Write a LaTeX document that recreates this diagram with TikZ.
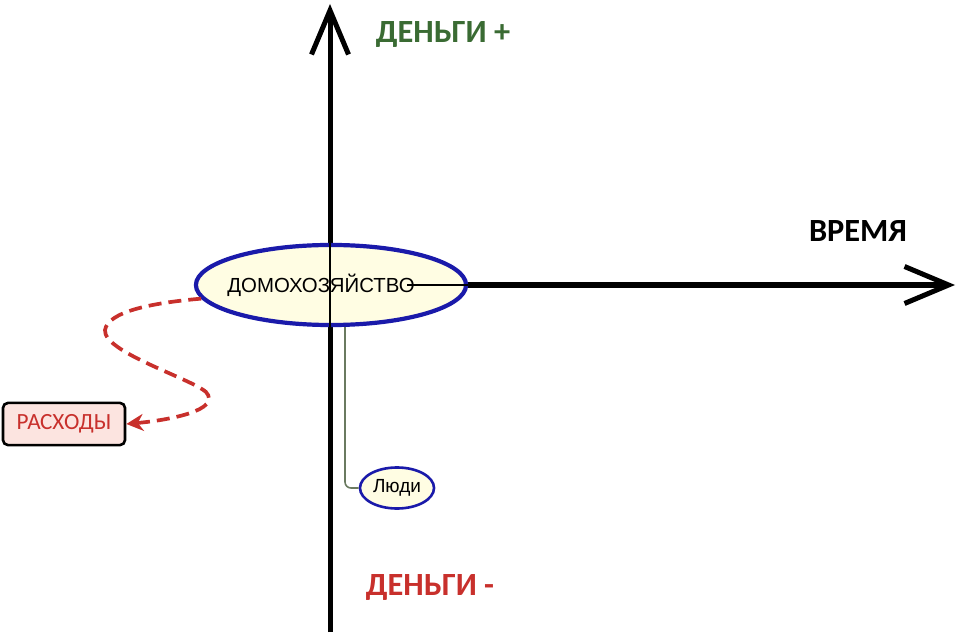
\documentclass[tikz,border=0pt]{standalone}
\usepackage{fontspec}
\setmainfont{Liberation Sans}
\newfontfamily\capfont{Carlito}
\usepackage{xcolor}
\usetikzlibrary{arrows.meta}
\usetikzlibrary{shapes}
\definecolor{ovalblue}{HTML}{1A1AAA}
\definecolor{ovalfill}{HTML}{FFFDE3}
\definecolor{costred}{HTML}{C8302C}
\definecolor{costfill}{HTML}{FCE4E0}
\definecolor{plusgreen}{HTML}{3A6B33}
\definecolor{linkgray}{HTML}{6A7A60}
\tikzset{axis/.style={line width=0.05cm,-{Straight Barb[length=0.44cm,width=0.37cm]}},
 home/.style={ellipse,draw=ovalblue,line width=0.042cm,fill=ovalfill,
   minimum width=2.7cm,minimum height=0.8cm,inner sep=0pt,font=\fontsize{5.8}{7}\selectfont},
 people/.style={ellipse,draw=ovalblue,line width=0.026cm,fill=ovalfill,
   minimum width=0.74cm,minimum height=0.41cm,inner sep=0pt,font=\fontsize{5.4}{6}\selectfont},
 costbox/.style={draw=black,line width=0.026cm,rounded corners=0.05cm,fill=costfill,
   text=costred,minimum width=1.22cm,minimum height=0.38cm,font=\capfont\fontsize{6.6}{8}\selectfont},
 axislabel/.style={font=\capfont\bfseries\fontsize{9.2}{11}\selectfont},
 thin/.style={line width=0.02cm},
 link/.style={draw=linkgray,line width=0.016cm,rounded corners=0.06cm},
 costlink/.style={draw=costred,line width=0.037cm,dash pattern=on 0.13cm off 0.07cm,
   -{Stealth[length=0.17cm,width=0.17cm]}},
 }

\begin{document}
\begin{tikzpicture}[x=0.01cm,y=-0.01cm]
        \useasboundingbox (0,0) rectangle (958,637);
        \coordinate (ybot) at (330,632);
        \coordinate (ytop) at (330,4);
        \coordinate (xleft) at (330,285);
        \coordinate (xright) at (955,285);
        \coordinate (xmid) at (407,285);
        % axes
        \draw[axis] (ybot) -- (ytop);
        \draw[axis] (xleft) -- (xright);
        \node[home] (hh) at (331,285) {\hspace*{-0.2cm}ДОМОХОЗЯЙСТВО};
        \node[people] (ppl) at (397,488) {Люди};
        \node[costbox] (cost) at (64,424) {РАСХОДЫ};
        \draw[thin] (hh.north -| ybot) -- (hh.south -| ybot);
        \draw[thin] (xmid) -- (hh.east);
        \draw[link] ([xshift=0.14cm]hh.south) |- (ppl.west);
        \draw[costlink] (hh.186) .. controls (150,303) and (108,312) .. (105,330)
            .. controls (103,352) and (190,378) .. (206,392)
            .. controls (222,410) and (170,420) .. (cost.east);
        \node[axislabel,text=plusgreen] (plus) at (443,34) {ДЕНЬГИ +};
        \node[axislabel,text=costred] (minus) at (430,587) {ДЕНЬГИ -};
        \node[axislabel] (time) at (858,231) {ВРЕМЯ};
    \end{tikzpicture}
\end{document}
